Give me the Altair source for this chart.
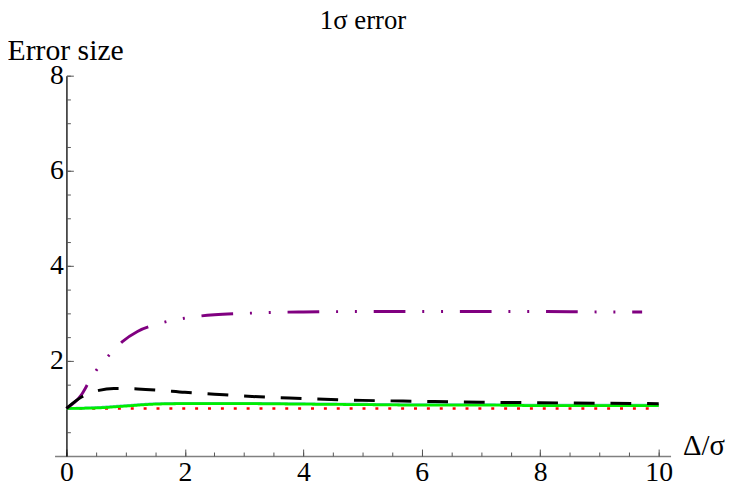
import altair as alt
import pandas as pd

# ---- data ----
series_names = ["s1_red_dotted", "s2_teal", "s3_green", "s4_purple", "s5_black"]
series_colors = ["#ff0000", "#66c2c2", "#00ee00", "#800080", "#000000"]

red_x = [0, 10]
red_y = [1.0, 1.0]

teal_x = [0, 0.5, 1, 1.5, 2, 3, 4, 5, 6, 7, 8, 9, 10]
teal_y = [1.0, 1.02, 1.06, 1.10, 1.11, 1.11, 1.10, 1.09, 1.08, 1.08, 1.07, 1.07, 1.07]

green_x = [0, 0.5, 1, 1.5, 2, 3, 4, 5, 6, 7, 8, 9, 10]
green_y = [1.0, 1.01, 1.05, 1.09, 1.10, 1.10, 1.09, 1.08, 1.07, 1.07, 1.06, 1.06, 1.06]

purple_x = [0, 0.25, 0.4, 0.55, 0.72, 0.94, 1.2, 1.5, 2.0, 2.5, 3.0, 3.5, 4, 5, 6, 7, 8, 9, 9.72]
purple_y = [1.0, 1.28, 1.6, 1.88, 2.12, 2.4, 2.62, 2.76, 2.9, 2.97, 3.0, 3.02, 3.03, 3.04, 3.04, 3.04, 3.04, 3.03, 3.03]

black_x = [0, 0.27, 0.55, 0.8, 1.2, 1.5, 2, 2.5, 3, 4, 5, 6, 7, 8, 9, 10]
black_y = [1.0, 1.25, 1.38, 1.42, 1.41, 1.39, 1.34, 1.30, 1.26, 1.21, 1.17, 1.15, 1.13, 1.12, 1.11, 1.10]

x_major = [0, 2, 4, 6, 8, 10]
x_minor = [0, 0.5, 1, 1.5, 2, 2.5, 3, 3.5, 4, 4.5, 5, 5.5, 6, 6.5, 7, 7.5, 8, 8.5, 9, 9.5, 10]
y_labels = [2, 4, 6, 8]
y_major = [2, 4, 6, 8]
y_minor = [0.5, 1, 1.5, 2, 2.5, 3, 3.5, 4, 4.5, 5, 5.5, 6, 6.5, 7, 7.5, 8]

# ---- table ----
rows = []
for name, xs_, ys_ in [
    (series_names[0], red_x, red_y),
    (series_names[1], teal_x, teal_y),
    (series_names[2], green_x, green_y),
    (series_names[3], purple_x, purple_y),
    (series_names[4], black_x, black_y),
]:
    for a, b in zip(xs_, ys_):
        rows.append({"series": name, "x": a, "y": b})
df = pd.DataFrame(rows)

W, H = 622, 384
FONT = "Liberation Serif"
xs = alt.Scale(domain=[-0.2, 10.2], nice=False, zero=False)
ys = alt.Scale(domain=[0, 8], nice=False, zero=False)

dashes = [[3, 10], [1, 0], [1, 0], [32, 17, 2, 17, 2, 17], [21, 16]]
widths = [2.6, 3, 3, 2.6, 2.8]

lines = alt.Chart(df).mark_line(interpolate="monotone").encode(
    x=alt.X("x:Q", scale=xs, axis=alt.Axis(
        orient="bottom",
        values=x_major, ticks=False, grid=False,
        domainColor="#808080", domainWidth=1.5,
        labelFont=FONT, labelFontSize=28, labelColor="black", labelPadding=3,
        labelFlush=False, labelOverlap=False, labelBound=False,
        title="Δ/σ", titleFont=FONT, titleFontSize=29, titleFontWeight="normal",
        titleColor="black", titleX=634, titleY=-1, titleAlign="left",
        titleBaseline="alphabetic")),
    y=alt.Y("y:Q", scale=ys, axis=alt.Axis(
        orient="left",
        values=y_labels, ticks=False, grid=False, offset=-12,
        domainColor="black", domainWidth=1.3,
        labelFont=FONT, labelFontSize=28, labelColor="black", labelPadding=3,
        labelOverlap=False, labelBound=False, labelFlush=False,
        title="Error size", titleFont=FONT, titleFontSize=30, titleFontWeight="normal",
        titleColor="black", titleAngle=0, titleX=-60, titleY=-16,
        titleAlign="left", titleBaseline="alphabetic")),
    color=alt.Color("series:N", scale=alt.Scale(domain=series_names, range=series_colors), legend=None),
    strokeDash=alt.StrokeDash("series:N", scale=alt.Scale(domain=series_names, range=dashes), legend=None),
    strokeWidth=alt.StrokeWidth("series:N", scale=alt.Scale(domain=series_names, range=widths), legend=None),
)

minor_ticks = alt.Chart(df).mark_point(opacity=0).encode(
    x=alt.X("x:Q", scale=xs, axis=alt.Axis(
        orient="top", offset=-H, values=x_minor, labels=False, domain=False, grid=False,
        tickSize=4, tickColor="#555555", tickWidth=1,
        title="1σ error", titleFont=FONT, titleFontSize=27, titleFontWeight="normal",
        titleColor="black", titleX=311, titleY=-432, titleAlign="center",
        titleBaseline="alphabetic")),
    y=alt.Y("y:Q", scale=ys, axis=alt.Axis(
        orient="right", offset=-(W - 12), values=y_minor, labels=False, domain=False,
        grid=False, tickSize=4, tickColor="#555555", tickWidth=1, title="")),
)

major_ticks = alt.Chart(df).mark_point(opacity=0).encode(
    x=alt.X("x:Q", scale=xs, axis=alt.Axis(
        orient="top", offset=-H, values=x_major, labels=False, domain=False, grid=False,
        tickSize=7, tickColor="#555555", tickWidth=1, title="")),
    y=alt.Y("y:Q", scale=ys, axis=alt.Axis(
        orient="right", offset=-(W - 12), values=y_major, labels=False, domain=False,
        grid=False, tickSize=7, tickColor="#555555", tickWidth=1, title="")),
)

chart = alt.layer(lines, minor_ticks, major_ticks).resolve_axis(
    x="independent", y="independent"
).properties(
    width=W, height=H,
    autosize=alt.AutoSizeParams(type="none"),
    padding={"left": 47, "top": 66, "right": 58, "bottom": 31},
).configure(
    font=FONT
).configure_axis(
    labelFont=FONT, titleFont=FONT
).configure_view(stroke=None)

chart.save("out.html", embed_options={"renderer": "svg", "actions": False})
